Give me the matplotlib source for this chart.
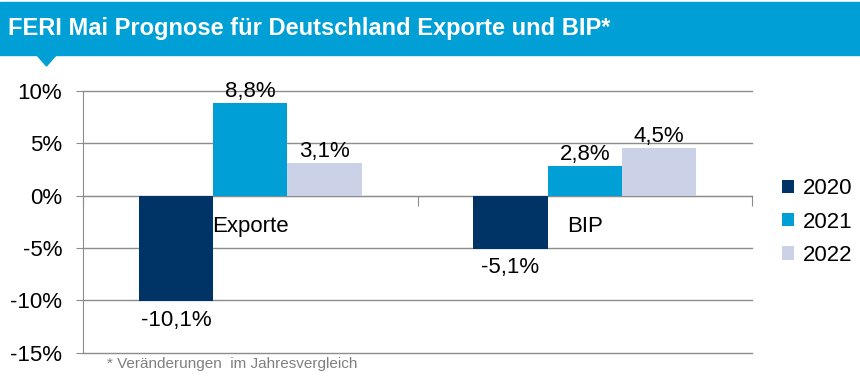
import matplotlib
matplotlib.use('Agg')
import matplotlib.pyplot as plt
import matplotlib.patches as mpatches
import numpy as np

plt.rcParams['font.family'] = ['Liberation Sans', 'DejaVu Sans']

# Daten
kategorien = ['Exporte', 'BIP']
jahre = ['2020', '2021', '2022']
werte = {
    '2020': [-10.1, -5.1],
    '2021': [8.8, 2.8],
    '2022': [3.1, 4.5],
}
farben = ['#003466', '#009fd6', '#cbd1e6']
y_ticks = [-15, -10, -5, 0, 5, 10]

W, H = 860, 387
fig = plt.figure(figsize=(W / 100, H / 100), dpi=100)

def fx(px):
    return px / W

def fy(py):
    return 1 - py / H

# Kopfzeile
blau = '#009fd6'
fig.patches.append(mpatches.Rectangle((0, fy(55)), 1, (55 - 2) / H,
                                      transform=fig.transFigure, color=blau, zorder=0))
fig.patches.append(mpatches.Polygon([(fx(36), fy(54)), (fx(57), fy(54)), (fx(46.5), fy(66))],
                                    closed=True, transform=fig.transFigure, color=blau))
fig.text(fx(8), fy(29), 'FERI Mai Prognose für Deutschland Exporte und BIP*',
         color='white', fontsize=17, fontweight='bold', va='center', ha='left',
         family=['Liberation Sans Narrow', 'Liberation Sans'])

ax = fig.add_axes([fx(83), fy(352.7), fx(752) - fx(83), (352.7 - 90.7) / H])

x = np.arange(len(kategorien))
breite = 0.222
for i, jahr in enumerate(jahre):
    pos = x + (i - 1) * breite
    bars = ax.bar(pos, werte[jahr], width=breite, color=farben[i], label=jahr, zorder=3)
    for b, v in zip(bars, werte[jahr]):
        txt = f'{v:.1f}%'.replace('.', ',')
        if v >= 0:
            ax.annotate(txt, (b.get_x() + b.get_width() / 2, v), xytext=(0, 1),
                        textcoords='offset points', ha='center', va='bottom', fontsize=16)
        else:
            ax.annotate(txt, (b.get_x() + b.get_width() / 2, v), xytext=(0, -6),
                        textcoords='offset points', ha='center', va='top', fontsize=16)

# Kategorienamen unterhalb der Nulllinie
for xi, k in zip(x, kategorien):
    ax.annotate(k, (xi, 0), xytext=(0, -22), textcoords='offset points',
                ha='center', va='center', fontsize=16)

ax.set_xlim(-0.5, len(kategorien) - 0.5)
ax.set_ylim(-15, 10)
ax.set_yticks(y_ticks)
ax.set_yticklabels([f'{t}%' for t in y_ticks], fontsize=16)
ax.set_xticks(np.arange(len(kategorien) + 1) - 0.5)
ax.set_xticklabels([])

grau = '#8c8c8c'
ax.yaxis.grid(True, color=grau, linewidth=1, zorder=0)
for gl in ax.get_ygridlines():
    gl.set_clip_on(False)
ax.set_axisbelow(True)
for s in ['top', 'right']:
    ax.spines[s].set_visible(False)
ax.spines['bottom'].set_position(('data', 0))
ax.spines['bottom'].set_color(grau)
ax.spines['left'].set_color(grau)
ax.tick_params(axis='y', length=5, color=grau, pad=10)
ax.tick_params(axis='x', length=7, color=grau, direction='out')

ax.legend(loc='center left', bbox_to_anchor=(fx(773), fy(222)), bbox_transform=fig.transFigure,
          frameon=False, fontsize=16, handlelength=0.55, handleheight=0.55,
          handletextpad=0.4, labelspacing=0.55, borderaxespad=0)

fig.text(fx(107), fy(364), '* Veränderungen  im Jahresvergleich', color='#7f7f7f',
         fontsize=11, ha='left', va='center')

fig.savefig('out.png', dpi=100)
